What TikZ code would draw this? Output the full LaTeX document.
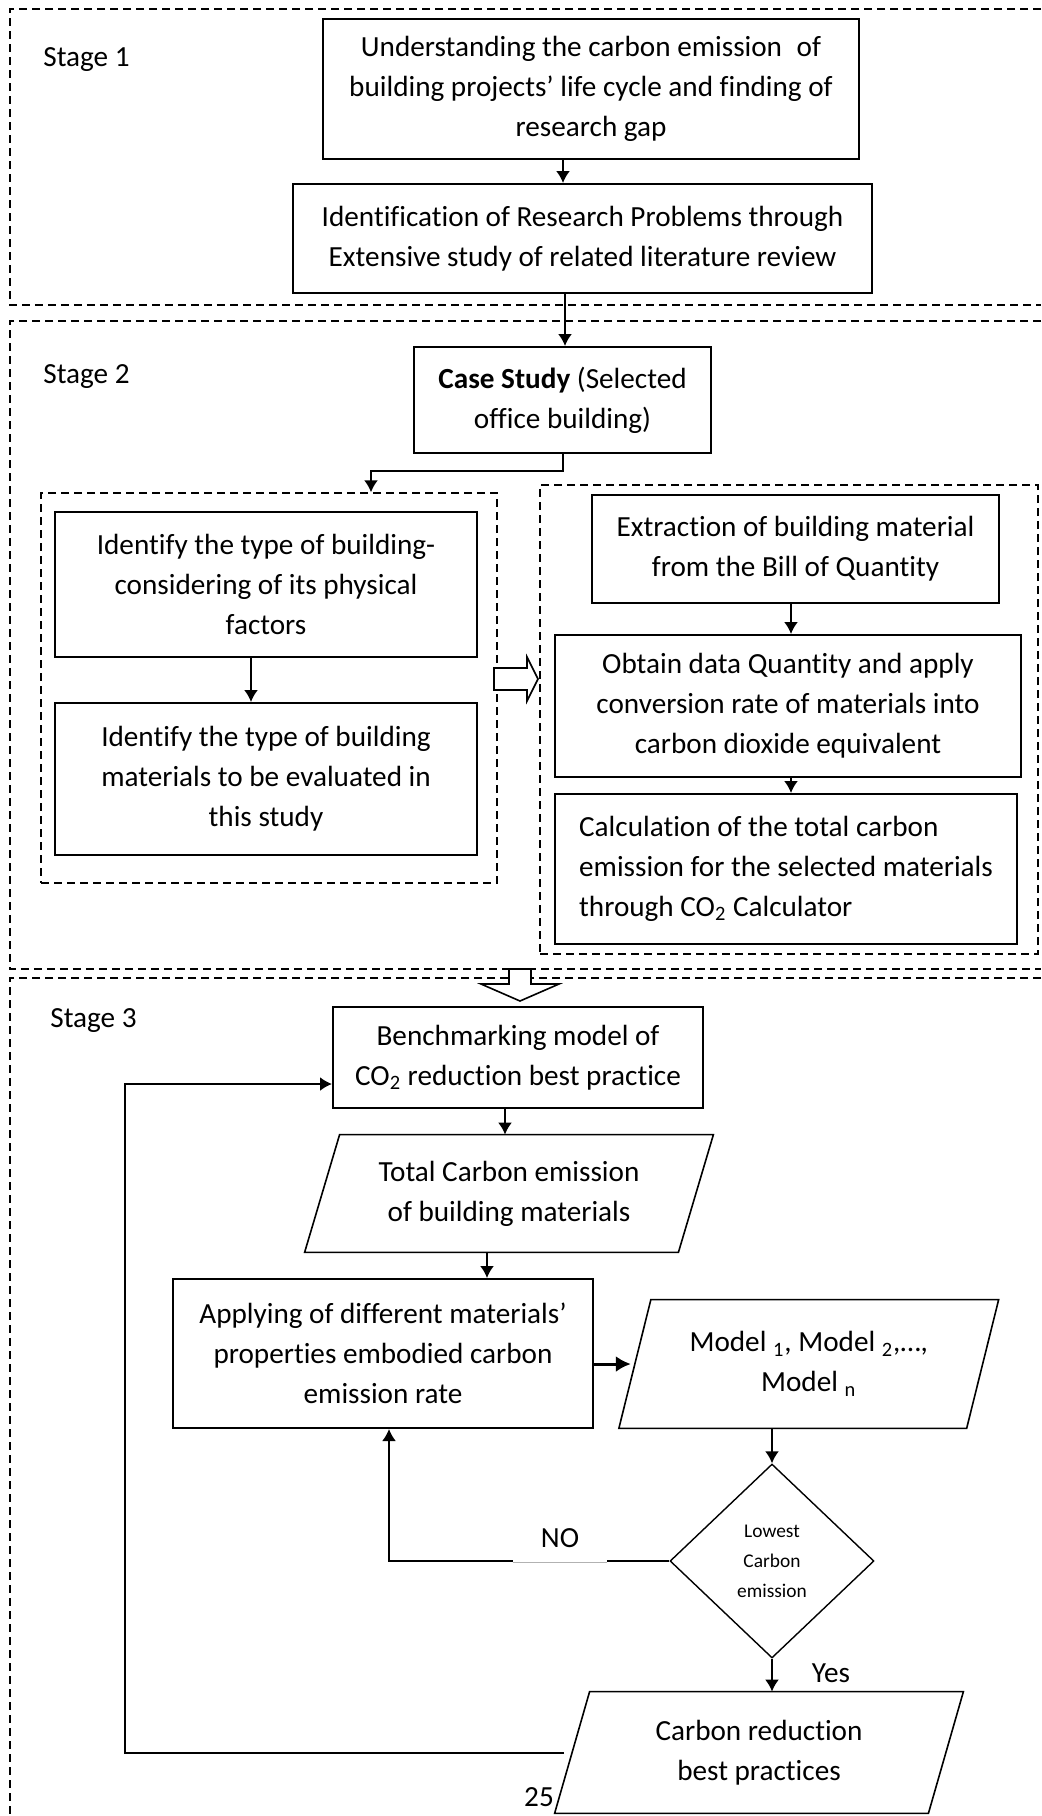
\documentclass[tikz,border=0pt]{standalone}
\usepackage{fontspec}
\setmainfont{Carlito}[Ligatures=NoCommon]
\usetikzlibrary{shapes.geometric,arrows.meta}
\newcommand\mainfs{\fontsize{14.6pt}{20pt}\selectfont}
\newcommand\smallfs{\fontsize{9.7pt}{15pt}\selectfont}
\begin{document}
\begin{tikzpicture}[x=0.5pt,y=-0.5pt,
  sz/.style 2 args={minimum width=#1*0.5pt, minimum height=#2*0.5pt},
  box/.style={draw, line width=1pt, inner sep=0pt, align=center, font=\mainfs},
  ptext/.style={inner sep=0pt, align=center, font=\mainfs},
  para/.style={line width=0.8pt},
  dbox/.style={draw, line width=0.7pt, dash pattern=on 4pt off 2.5pt, inner sep=0pt},
  stagefr/.style={line width=0.7pt, dash pattern=on 4pt off 2.5pt},
  lbl/.style={inner sep=0pt, font=\mainfs},
  arr/.style={line width=1pt, -{Latex[length=6pt,width=7pt]}},
  hollow/.style={draw, fill=white, line width=0.8pt}]
\useasboundingbox (0,0) rectangle (1041,1816);

% stage frames
\draw[stagefr] (1041,9) -- (10,9) -- (10,305) -- (1041,305);
\draw[stagefr] (1041,321) -- (10,321) -- (10,969) -- (1041,969);
\draw[stagefr] (1041,978) -- (10,978) -- (10,1816);

\node[lbl, anchor=west] (st1) at (43,60) {Stage 1};
\node[lbl, anchor=west] (st2) at (43,377) {Stage 2};
\node[lbl, anchor=west] (st3) at (50,1021) {Stage 3};

% stage 1
\node[box, sz={536}{140}] (b1) at (591,89) {Understanding the carbon emission\hspace{0.5em}of\\building projects’ life cycle and finding of\\research gap};
\node[box, sz={579}{109}] (b2) at (582.5,238.5) {Identification of Research Problems through\\Extensive study of related literature review};

% stage 2
\node[box, sz={297}{106}] (cs) at (562.5,400) {\textbf{Case Study} (Selected\\office building)};
\node[dbox, sz={456}{390}] (ld) at (269,688) {};
\node[box, sz={422}{145}] (l1) at (266,584.5) {Identify the type of building-\\considering of its physical\\factors};
\node[box, sz={422}{152}] (l2) at (266,779) {Identify the type of building\\materials to be evaluated in\\this study};
\node[dbox, sz={498}{469}] (rd) at (789,719.5) {};
\node[box, sz={407}{108}] (r1) at (795.5,549) {Extraction of building material\\from the Bill of Quantity};
\node[box, sz={466}{142}] (r2) at (788,706) {Obtain data Quantity and apply\\conversion rate of materials into\\carbon dioxide equivalent};
\node[box, align=left, sz={462}{150}] (r3) at (786,869) {Calculation of the total carbon\\emission for the selected materials\\through CO\textsubscript{2} Calculator};

% stage 3
\node[box, sz={370}{101}] (bm) at (518,1057.5) {Benchmarking model of\\CO\textsubscript{2} reduction best practice};
\node[ptext, sz={373}{117}] (tot) at (509,1193.5) {Total Carbon emission\\of building materials};
\draw[para] ([xshift=8.75pt]tot.north west) -- ([xshift=8.75pt]tot.north east) -- ([xshift=-8.75pt]tot.south east) -- ([xshift=-8.75pt]tot.south west) -- cycle;
\node[box, sz={420}{149}] (ap) at (383,1353.5) {Applying of different materials’\\properties embodied carbon\\emission rate};
\node[ptext, sz={347}{128}] (mod) at (808.75,1364) {Model \textsubscript{1}, Model \textsubscript{2},…,\\Model \textsubscript{n}};
\draw[para] ([xshift=8pt]mod.north west) -- ([xshift=8pt]mod.north east) -- ([xshift=-8pt]mod.south east) -- ([xshift=-8pt]mod.south west) -- cycle;
\node[draw, diamond, sz={204}{194}, inner sep=0pt, line width=0.7pt, align=center, font=\smallfs] (dia) at (772,1561) {Lowest\\Carbon\\emission};
\node[ptext, sz={373}{121}] (cbp) at (759,1752.5) {Carbon reduction\\best practices};
\draw[para] ([xshift=8.75pt]cbp.north west) -- ([xshift=8.75pt]cbp.north east) -- ([xshift=-8.75pt]cbp.south east) -- ([xshift=-8.75pt]cbp.south west) -- cycle;

% connector x positions
\coordinate (c1) at (563,0);
\coordinate (c2) at (565,0);
\coordinate (c3) at (371,471);
\coordinate (c4) at (251,0);
\coordinate (c5) at (791,0);
\coordinate (c6) at (505,0);
\coordinate (c7) at (487,0);
\coordinate (c10) at (389,0);
\coordinate (fb) at (125,0);

\draw[arr] (b1.south -| c1) -- (b2.north -| c1);
\draw[arr] (b2.south -| c2) -- (cs.north -| c2);
\draw[arr] (cs.south) |- (c3) -- (c3 |- ld.north);
\draw[arr] (l1.south -| c4) -- (l2.north -| c4);
\draw[arr] (r1.south -| c5) -- (r2.north -| c5);
\draw[arr] (r2.south -| c5) -- (r3.north -| c5);
\draw[arr] (bm.south -| c6) -- (tot.north -| c6);
\draw[arr] (tot.south -| c7) -- (ap.north -| c7);
\draw[line width=1.5pt, shorten >=2pt, -{Latex[length=7.5pt,width=8pt]}] (ap.east |- mod.west) -- (mod.west);
\draw[arr] (mod.south -| dia.north) -- (dia.north);
\draw[arr] (dia.south) -- (dia.south |- cbp.north);
\draw[arr] (dia.west) -| (ap.south -| c10);
\draw[arr] ([xshift=-4pt]cbp.west) -- (cbp.west -| fb) -- ([yshift=-13.25pt]bm.west -| fb) -- ([yshift=-13.25pt]bm.west);

\node[lbl, fill=white, sz={94}{48}] (no) at (560,1538) {NO};
\draw[gray!60, line width=0.4pt] (no.south west) -- (no.south east);
\node[lbl] (yes) at (831,1673) {Yes};
\node[lbl] (pg) at (539,1797) {25};

% hollow block arrows
\coordinate (ha) at (494,668);
\draw[hollow] (ha) -- ++(33,0) -- ++(0,-11) -- ++(11,22) -- ++(-11,22) -- ++(0,-11) -- ++(-33,0) -- cycle;
\coordinate (hb) at (509,969);
\draw[hollow] (hb) -- ++(22,0) -- ++(0,15) -- ++(28,0) -- ++(-39,17) -- ++(-39,-17) -- ++(28,0) -- cycle;
\end{tikzpicture}
\end{document}
